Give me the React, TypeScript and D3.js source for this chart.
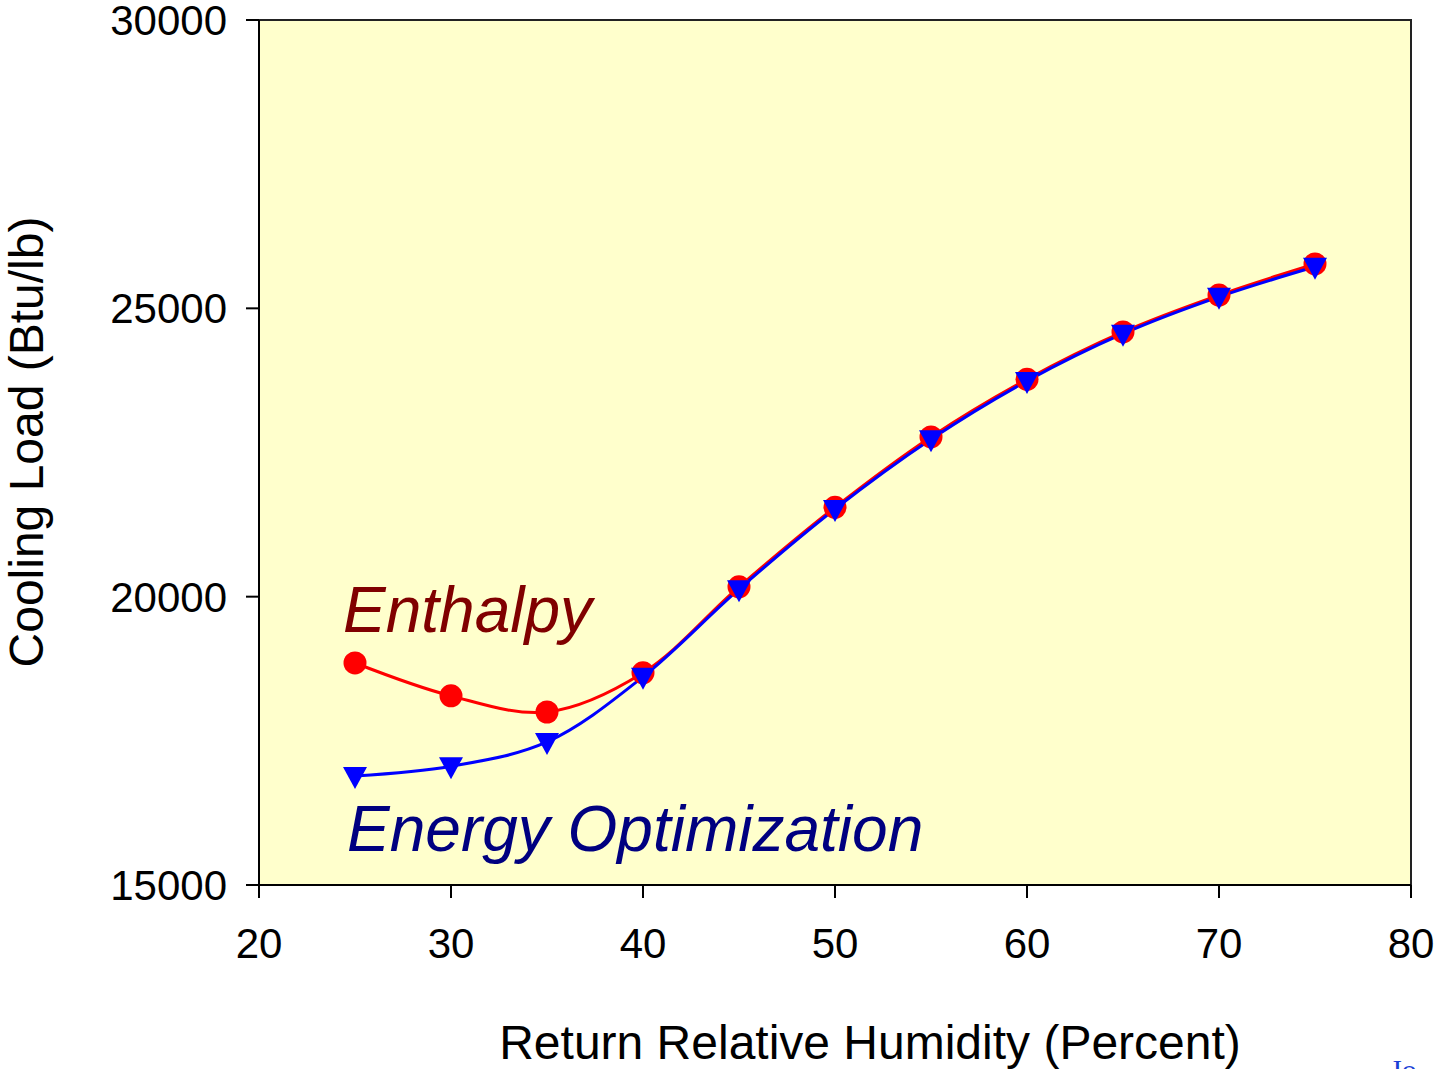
import React from "react";
import * as d3 from "d3";

const humidity = [25, 30, 35, 40, 45, 50, 55, 60, 65, 70, 75];
const enthalpy = [18850, 18280, 18000, 18680, 20170, 21550, 22770, 23770, 24590, 25230, 25770];
const energyOpt = [16890, 17060, 17480, 18610, 20130, 21520, 22730, 23740, 24560, 25200, 25720];
const xTicks = [20, 30, 40, 50, 60, 70, 80];
const yTicks = [15000, 20000, 25000, 30000];

const W = 1436;
const H = 1069;
const left = 259, right = 1411, top = 20, bottom = 885;

export default function App() {
  const x = d3.scaleLinear().domain([20, 80]).range([left, right]);
  const y = d3.scaleLinear().domain([15000, 30000]).range([bottom, top]);
  const line = d3
    .line<[number, number]>()
    .x((d) => x(d[0]))
    .y((d) => y(d[1]))
    .curve(d3.curveCatmullRom.alpha(0.5));
  const enthPts: [number, number][] = humidity.map((h, i) => [h, enthalpy[i]]);
  const optPts: [number, number][] = humidity.map((h, i) => [h, energyOpt[i]]);
  const font = "Arial, 'Liberation Sans', Helvetica, sans-serif";
  const tri = (cx: number, cy: number) => {
    const s = 12;
    return `M${cx - s},${cy - 9}L${cx + s},${cy - 9}L${cx},${cy + 13}Z`;
  };

  return (
    <div style={{ position: "absolute", left: 0, top: 0 }}>
      <svg width={W} height={H} style={{ display: "block", background: "#fff" }}>
        <rect x={left} y={top} width={right - left} height={bottom - top} fill="#FFFFCC" stroke="#222" strokeWidth={2} />
        {/* y axis */}
        <line x1={left} x2={left} y1={top} y2={bottom} stroke="#000" strokeWidth={2} />
        {yTicks.map((t) => (
          <g key={"y" + t}>
            <line x1={left - 13} x2={left} y1={y(t)} y2={y(t)} stroke="#000" strokeWidth={2} />
            <text x={left - 32} y={y(t)} dy="0.36em" textAnchor="end" fontFamily={font} fontSize={42} fill="#000">
              {t}
            </text>
          </g>
        ))}
        {/* x axis */}
        <line x1={left} x2={right} y1={bottom} y2={bottom} stroke="#000" strokeWidth={2} />
        {xTicks.map((t) => (
          <g key={"x" + t}>
            <line x1={x(t)} x2={x(t)} y1={bottom} y2={bottom + 13} stroke="#000" strokeWidth={2} />
            <text x={x(t)} y={958} textAnchor="middle" fontFamily={font} fontSize={42} fill="#000">
              {t}
            </text>
          </g>
        ))}
        {/* lines */}
        <path d={line(enthPts) || ""} fill="none" stroke="#FF0000" strokeWidth={3} />
        <path d={line(optPts) || ""} fill="none" stroke="#0000FF" strokeWidth={3} />
        {enthPts.map((d, i) => (
          <circle key={"c" + i} cx={x(d[0])} cy={y(d[1])} r={11.5} fill="#FF0000" />
        ))}
        {optPts.map((d, i) => (
          <path key={"t" + i} d={tri(x(d[0]), y(d[1]))} fill="#0000FF" />
        ))}
        {/* annotations */}
        <text x={343} y={632} fontFamily={font} fontStyle="italic" fontSize={64} fill="#800000">
          Enthalpy
        </text>
        <text x={347} y={851} fontFamily={font} fontStyle="italic" fontSize={64} fill="#000080">
          Energy Optimization
        </text>
        {/* axis titles */}
        <text x={870} y={1059} textAnchor="middle" fontFamily={font} fontSize={48} fill="#000">
          Return Relative Humidity (Percent)
        </text>
        <text
          transform={`translate(43,442) rotate(-90)`}
          textAnchor="middle"
          fontFamily={font}
          fontSize={48}
          fill="#000"
        >
          Cooling Load (Btu/lb)
        </text>
        <text x={1390} y={1080} fontFamily="'Liberation Serif', 'Times New Roman', serif" fontSize={30} fill="#1a3fd6">
          Jo
        </text>
      </svg>
    </div>
  );
}
